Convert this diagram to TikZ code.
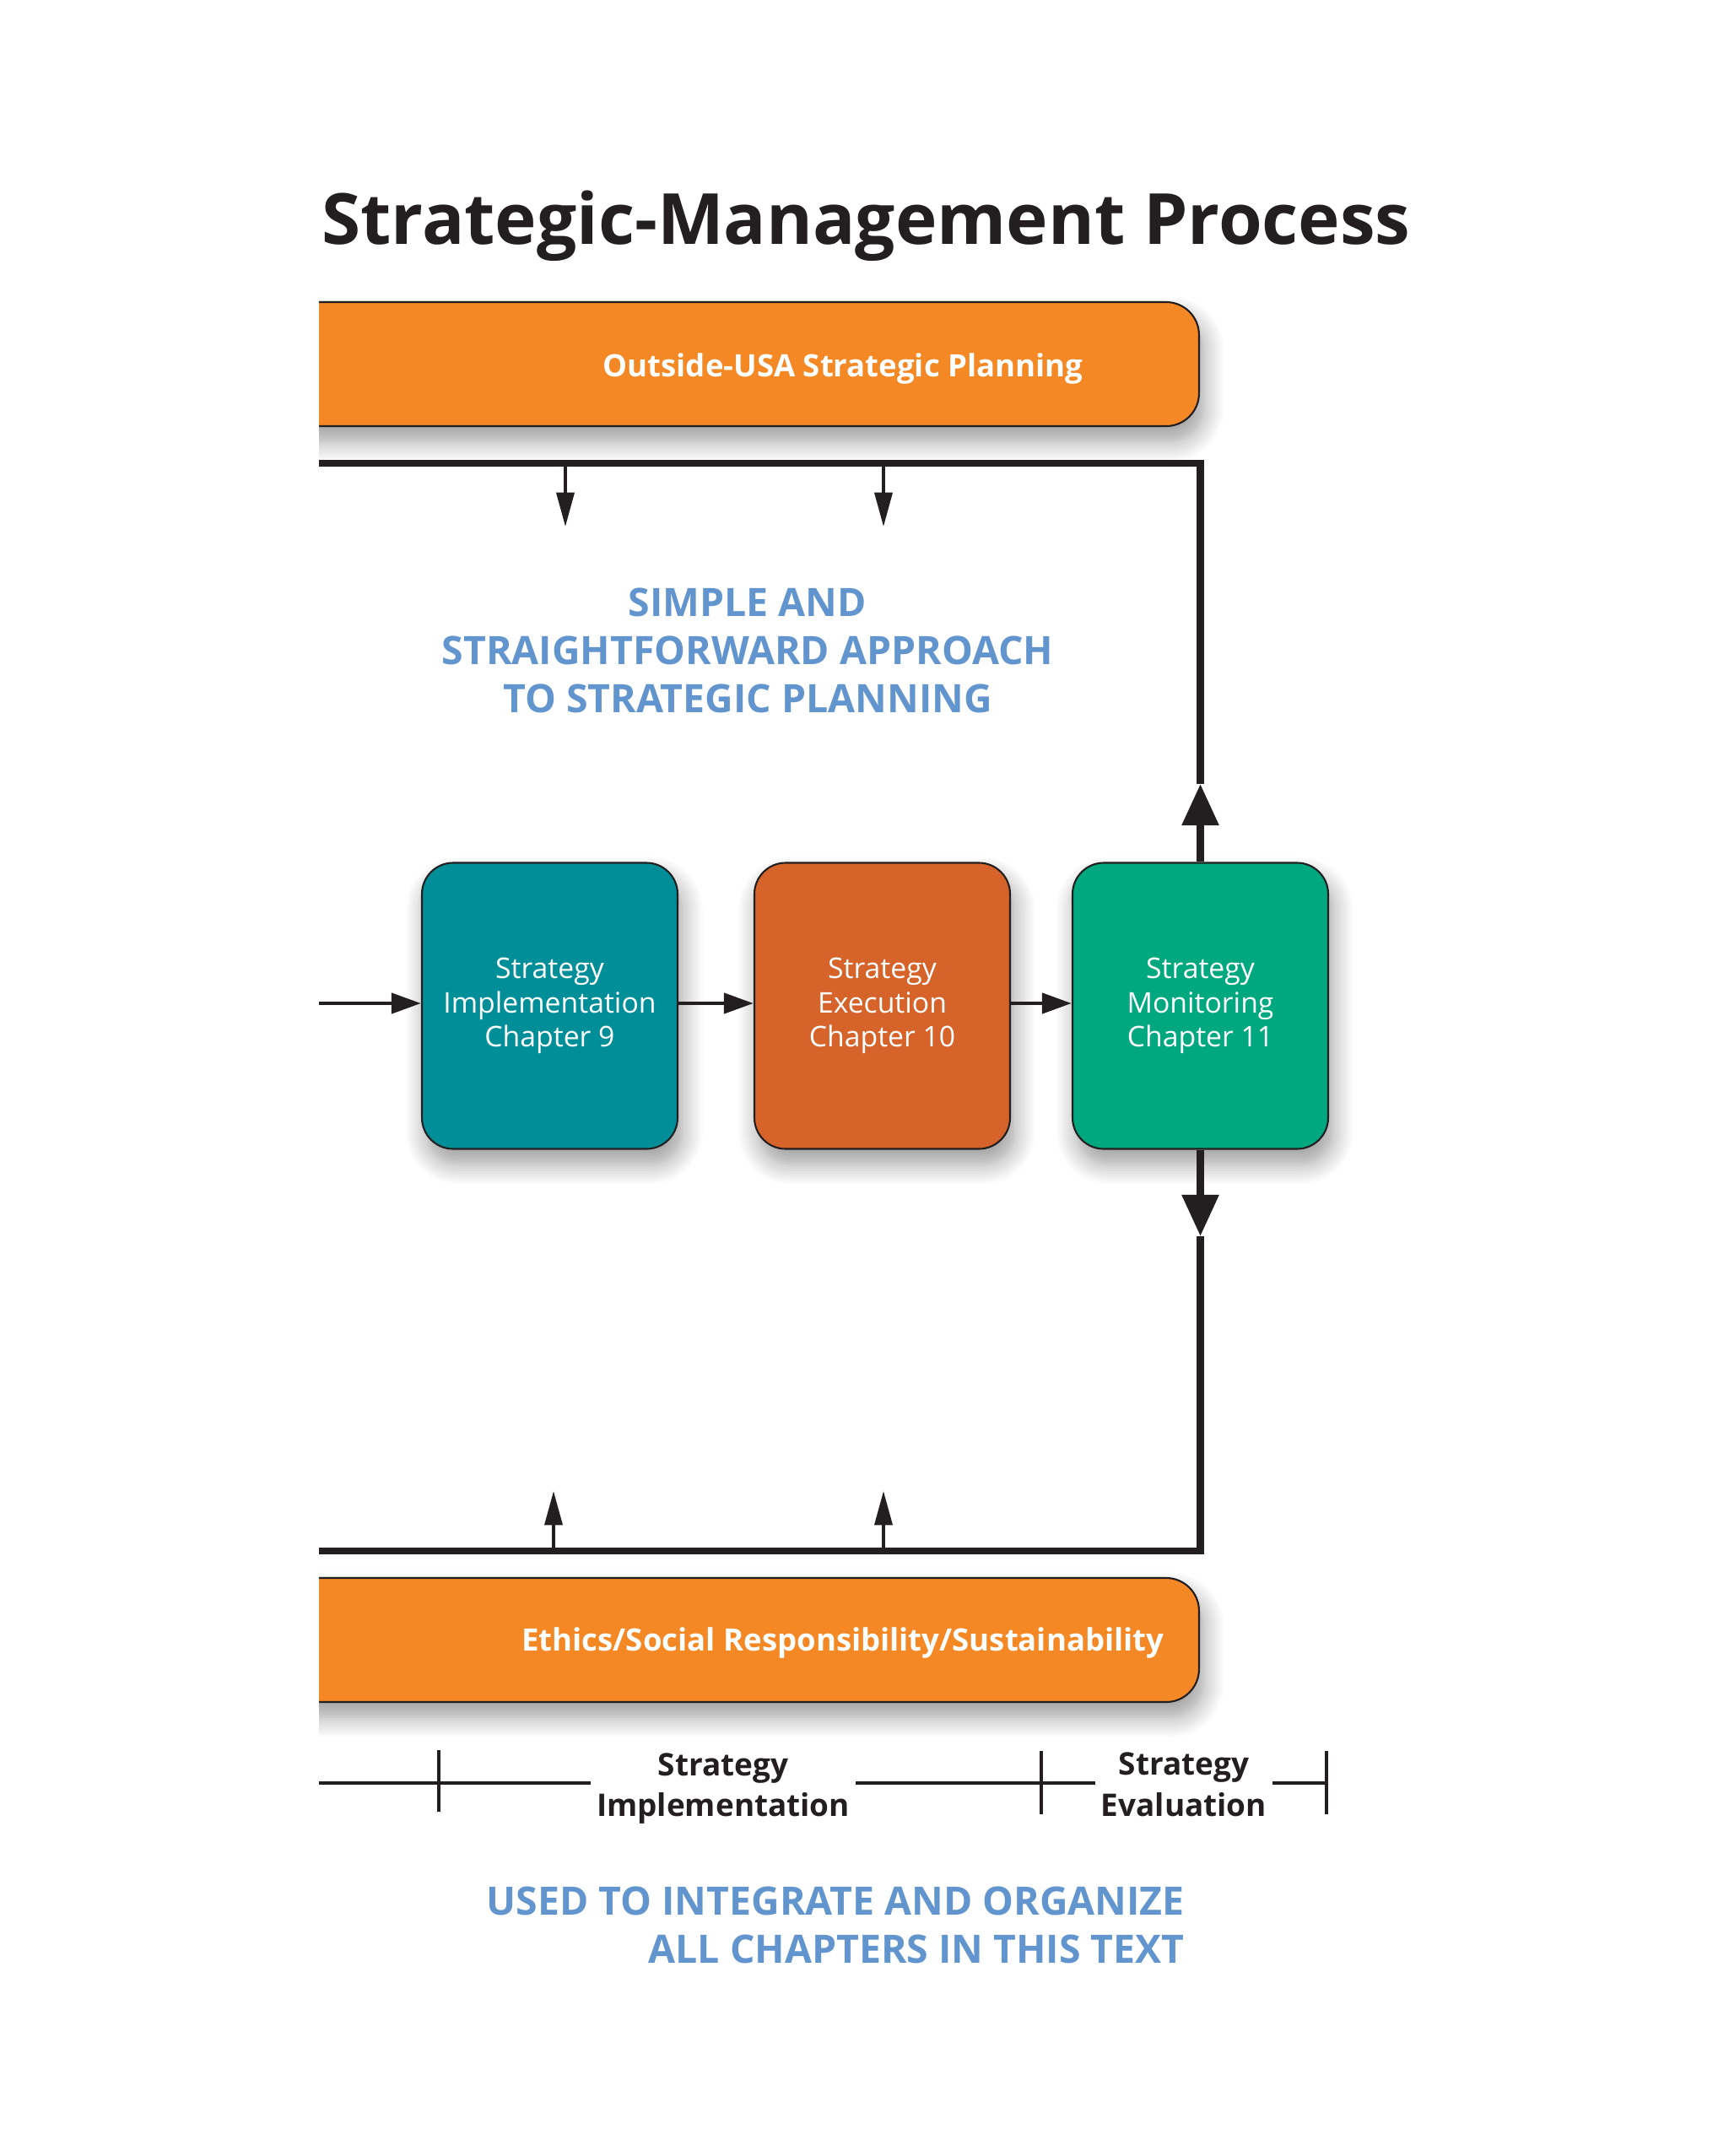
\documentclass[tikz,border=0pt]{standalone}
\usepackage{fontspec}
\setmainfont{Open Sans}
\usetikzlibrary{arrows.meta,shadows.blur}
\definecolor{ink}{RGB}{35,31,32}
\definecolor{bandorange}{RGB}{243,136,37}
\definecolor{teal}{RGB}{0,143,153}
\definecolor{rust}{RGB}{214,99,42}
\definecolor{jade}{RGB}{0,168,128}
\definecolor{noteblue}{RGB}{98,149,206}
\tikzset{
  softshadow/.style={blur shadow={shadow xshift=1.5pt, shadow yshift=-5pt,
      shadow blur radius=7pt, shadow blur steps=10, shadow opacity=40}},
  band/.style={draw=ink, line width=0.6pt, fill=bandorange, rounded corners=0.39cm,
      minimum width=12cm, minimum height=1.47cm, anchor=east, softshadow},
  bandtext/.style={text=white, font=\bfseries\fontsize{10.4}{12}\selectfont},
  stage/.style={draw=ink, line width=0.6pt, rounded corners=0.37cm, minimum width=3.03cm,
      minimum height=3.39cm, text=white, align=center,
      font=\fontsize{9.6}{11.6}\selectfont, softshadow},
  note/.style={text=noteblue, font=\bfseries\fontsize{13.2}{16.2}\selectfont},
  phase/.style={text=ink, align=center, inner sep=1.8pt,
      font=\bfseries\fontsize{10.5}{13.9}\selectfont},
  cycleline/.style={draw=ink, line width=2.5pt},
  bigtip/.style={-{Triangle[width=12pt,length=14pt]}},
  feed/.style={draw=ink, line width=1pt, -{Triangle[width=6pt,length=11.5pt]}},
  flow/.style={draw=ink, line width=1.4pt, -{Triangle[width=6.8pt,length=10pt]}},
  tick/.style={draw=ink, line width=1.1pt},
  timeline/.style={draw=ink, line width=1.3pt}
}
\begin{document}
\begin{tikzpicture}[x=1cm, y=-1cm]
    \useasboundingbox (0,0) rectangle (20.48,25.55);
    \node[anchor=base west, text=ink, font=\bfseries\fontsize{23.8}{28}\selectfont] (title) at (3.69,2.90) {Strategic-Management Process};
    % bands, cut at the left edge
    \begin{scope}
        \clip (3.78,0) rectangle (20.48,25.55);
        \node[band] (outside) at (14.22,4.315) {};
        \node[band] (ethics) at (14.22,19.435) {};
    \end{scope}
    \node[bandtext] (outsidetxt) at (9.99,4.37) {Outside-USA Strategic Planning};
    \node[bandtext] (ethicstxt) at (9.99,19.47) {Ethics/Social Responsibility/Sustainability};
    \node[note, align=center] (simple) at (8.86,7.71) {SIMPLE AND\\STRAIGHTFORWARD APPROACH\\TO STRATEGIC PLANNING};
    % stages
    \node[stage, fill=teal] (impl) at (6.515,11.92) {Strategy\\Implementation\\Chapter 9};
    \node[stage, fill=rust] (exec) at (10.455,11.92) {Strategy\\Execution\\Chapter 10};
    \node[stage, fill=jade] (monit) at (14.225,11.92) {Strategy\\Monitoring\\Chapter 11};
    \coordinate (inflow) at (3.78,11.89);
    \draw[flow] (inflow) -- (impl.west |- inflow);
    \draw[flow] (impl.east |- inflow) -- (exec.west |- inflow);
    \draw[flow] (exec.east |- inflow) -- (monit.west |- inflow);
    % upper loop
    \coordinate (uptip) at (14.225,9.29);
    \coordinate (topright) at (14.225,5.49);
    \coordinate (topleft) at (3.78,5.49);
    \coordinate (down1) at (6.70,6.24);
    \coordinate (down2) at (10.47,6.24);
    \draw[cycleline, bigtip] (monit.north) -- (uptip);
    \draw[cycleline] (uptip) -- (topright) -- (topleft);
    \draw[feed] (topleft -| down1) -- (down1);
    \draw[feed] (topleft -| down2) -- (down2);
    % lower loop
    \coordinate (dntip) at (14.225,14.65);
    \coordinate (botright) at (14.225,18.38);
    \coordinate (botleft) at (3.78,18.38);
    \coordinate (up1) at (6.56,17.67);
    \coordinate (up2) at (10.47,17.67);
    \draw[cycleline, bigtip] (monit.south) -- (dntip);
    \draw[cycleline] (dntip) -- (botright) -- (botleft);
    \draw[feed] (botleft -| up1) -- (up1);
    \draw[feed] (botleft -| up2) -- (up2);
    % phases
    \coordinate (tl0) at (3.78,21.13);
    \coordinate (tl3) at (15.72,21.13);
    \node[phase] (implphase) at (8.57,21.195) {Strategy\\Implementation};
    \node[phase] (evalphase) at (14.03,21.15) {Strategy\\Evaluation};
    \draw[timeline] (tl0) -- (tl0 -| implphase.west);
    \draw[timeline] (tl0 -| implphase.east) -- (tl0 -| evalphase.west);
    \draw[timeline] (tl0 -| evalphase.east) -- (tl3);
    \draw[tick] (5.20,20.74) -- (5.20,21.47);
    \draw[tick] (12.34,20.75) -- (12.34,21.50);
    \draw[tick] (15.72,20.75) -- (15.72,21.50);
    \node[note, align=right, anchor=east] (used) at (14.16,22.81) {USED TO INTEGRATE AND ORGANIZE\\ALL CHAPTERS IN THIS TEXT};
\end{tikzpicture}
\end{document}
